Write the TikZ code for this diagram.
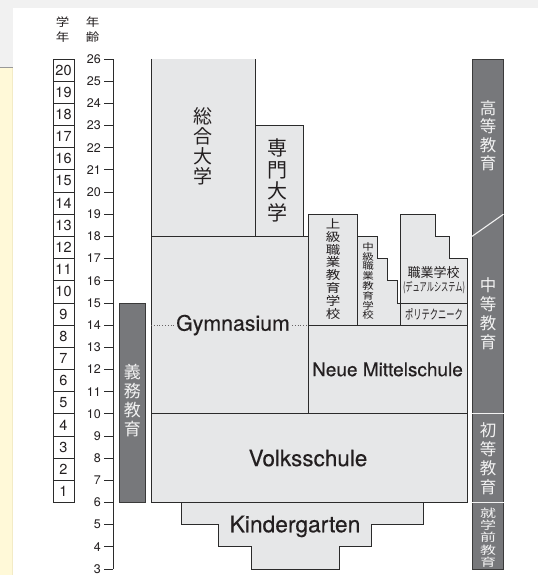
\documentclass[tikz,border=0pt]{standalone}
\usepackage{fontspec}
\usepackage{graphicx}
\setmainfont{TeX Gyre Heros}
\newfontfamily\lab{TeX Gyre Heros}[FakeBold=0.35]
\newfontfamily\jp{Noto Sans CJK JP}
\newcommand\sqz[2]{\scalebox{1}[#1]{#2}}
\definecolor{boxfill}{HTML}{E6E7E8}
\definecolor{edge}{HTML}{2B2B2B}
\definecolor{barfill}{HTML}{77787B}
\definecolor{baredge}{HTML}{3A3A3A}
\definecolor{bartext}{HTML}{F2F2F2}
\definecolor{ink}{HTML}{231F20}
\definecolor{cream}{HTML}{FFF9D8}
\definecolor{creamedge}{HTML}{F3EBC6}
\definecolor{topgray}{HTML}{F1F1F1}
\begin{document}
\begin{tikzpicture}[x=1pt,y=22.174pt,
  box/.style={fill=boxfill,draw=edge,line width=0.8pt},
  bar/.style={fill=barfill,draw=baredge,line width=0.8pt},
  sepline/.style={draw=bartext,line width=1.1pt},
  axisline/.style={draw=edge,line width=0.8pt},
  gradebox/.style={draw=edge,line width=0.8pt,fill=white,minimum width=21pt,minimum height=22.174pt,inner sep=0pt,font=\fontsize{14.5}{14.5}\selectfont,text=ink},
  agelab/.style={inner sep=0pt,font=\fontsize{12.5}{12.5}\selectfont,text=ink,anchor=east},
  hdr/.style={inner sep=0pt,align=center,text=ink,font=\jp\fontsize{13.5}{14.8}\selectfont},
  jpv/.style={inner sep=0pt,align=center,text=ink},
  barv/.style={inner sep=0pt,align=center,text=bartext},
  latin/.style={inner sep=0pt,text=ink},
  dotline/.style={draw=ink!70,dotted,line width=0.8pt}
]
\useasboundingbox (0,2.7294) rectangle (538,28.6606);
% background
\fill[topgray] (0,2.7294) rectangle (538,28.6606);
\fill[white] (13,2.7294) rectangle (538,28.30);
\fill[cream] (0,2.7294) rectangle (12,25.639);
\fill[creamedge] (12,2.7294) rectangle (13,25.639);
\draw[gray!80,line width=0.8pt] (0,25.639) -- (13,25.639);

% headers
\node[hdr] (hgaku) at (62.5,27.33) {\sqz{0.85}{学}\\\sqz{0.85}{年}};
\node[hdr] (hnen) at (92.5,27.33) {\sqz{0.85}{年}\\\sqz{0.85}{齢}};

% grade boxes
\foreach \g in {1,...,20} {
  \node[gradebox] (g\g) at (63.5,\g+5.5) {\g};
}
% age axis
\draw[axisline] (113,3) -- (113,26);
\foreach \a in {3,...,26} {
  \node[agelab] (a\a) at (101,\a) {\a};
  \draw[axisline] (104,\a) -- (113,\a);
}

% compulsory education bar
\draw[bar] (119.5,6) rectangle (145,15);
\node[barv,font=\jp\fontsize{17}{19}\selectfont] (gimu) at (132.3,10.6) {義\\務\\教\\育};

% main chart
\fill[boxfill] (151,18) rectangle (255,26);
\draw[edge,line width=0.8pt] (151,26) -- (151,18) -- (255,18) -- (255,26);
\draw[box] (255,18) rectangle (303,23);
\draw[box] (151,10) rectangle (308,18);
\draw[box] (308,14) rectangle (357.5,19);
\draw[box] (357.5,14) -- (357.5,18) -- (377,18) -- (377,17) -- (387,17) -- (387,16) -- (397,16) -- (397,15) -- (400.7,15) -- (400.7,14) -- cycle;
\draw[box] (400.7,15) -- (400.7,19) -- (435,19) -- (435,18) -- (449,18) -- (449,17) -- (467,17) -- (467,15) -- cycle;
\draw[box] (400.7,14) rectangle (467,15);
\draw[box] (308,10) rectangle (467,14);
\draw[box] (151,6) rectangle (467,10);
\draw[box] (181.7,6) -- (181.7,5) -- (218,5) -- (218,4) -- (251.7,4) -- (251.7,3) -- (339.3,3) -- (339.3,4) -- (371.7,4) -- (371.7,5) -- (423.3,5) -- (423.3,6) -- cycle;

% labels in chart
\node[jpv,font=\jp\fontsize{19}{20}\selectfont] (sogo) at (203,22.08) {総\\合\\大\\学};
\node[jpv,font=\jp\fontsize{20}{21.5}\selectfont] (senmon) at (277,20.52) {専\\門\\大\\学};
\node[jpv,font=\jp\fontsize{14.5}{12.8}\selectfont] (joukyu) at (333,16.53) {\sqz{0.82}{上}\\\sqz{0.82}{級}\\\sqz{0.82}{職}\\\sqz{0.82}{業}\\\sqz{0.82}{教}\\\sqz{0.82}{育}\\\sqz{0.82}{学}\\\sqz{0.82}{校}};
\node[jpv,font=\jp\fontsize{11.5}{9.8}\selectfont] (chukyu) at (368,15.99) {\sqz{0.82}{中}\\\sqz{0.82}{級}\\\sqz{0.82}{職}\\\sqz{0.82}{業}\\\sqz{0.82}{教}\\\sqz{0.82}{育}\\\sqz{0.82}{学}\\\sqz{0.82}{校}};
\node[jpv,font=\jp\fontsize{13}{13}\selectfont] (shokugyo) at (433.5,16.36) {職業学校};
\node[jpv,font=\jp\fontsize{12}{12}\selectfont] (dual) at (434,15.70) {\resizebox{62pt}{\height}{(デュアルシステム)}};
\node[jpv,font=\jp\fontsize{13}{13}\selectfont] (poly) at (434,14.47) {\resizebox{58pt}{\height}{ポリテクニーク}};

\node[latin,font=\lab\fontsize{21.3}{21.3}\selectfont] (gym) at (233,14) {Gymnasium};
\coordinate (gl) at (151,14);
\coordinate (gr) at (308,14);
\draw[dotline,shorten >=2pt] (gl) -- (gym.west);
\draw[dotline,shorten <=2pt] (gym.east) -- (gr);
\node[latin,font=\lab\fontsize{19}{19}\selectfont] (neue) at (387.5,12) {Neue Mittelschule};
\node[latin,font=\lab\fontsize{22.5}{22.5}\selectfont] (volks) at (308,8) {Volksschule};
\node[latin,font=\lab\fontsize{22.8}{22.8}\selectfont] (kinder) at (295,4.92) {Kindergarten};

% right bar
\draw[bar] (472,3) rectangle (503.5,26);
\draw[sepline] (472,18) -- (503.5,19);
\draw[sepline] (472,10) -- (503.5,10);
\draw[sepline] (472,6) -- (503.5,6);
\node[barv,font=\jp\fontsize{16.5}{18.5}\selectfont] (koto) at (488,22.53) {高\\等\\教\\育};
\node[barv,font=\jp\fontsize{16.5}{19}\selectfont] (chuto) at (488,14.52) {中\\等\\教\\育};
\node[barv,font=\jp\fontsize{16.5}{19}\selectfont] (shoto) at (488,7.98) {初\\等\\教\\育};
\node[barv,font=\jp\fontsize{16}{12.3}\selectfont] (shugaku) at (488,4.42) {\sqz{0.7}{就}\\\sqz{0.7}{学}\\\sqz{0.7}{前}\\\sqz{0.7}{教}\\\sqz{0.7}{育}};
\end{tikzpicture}
\end{document}
